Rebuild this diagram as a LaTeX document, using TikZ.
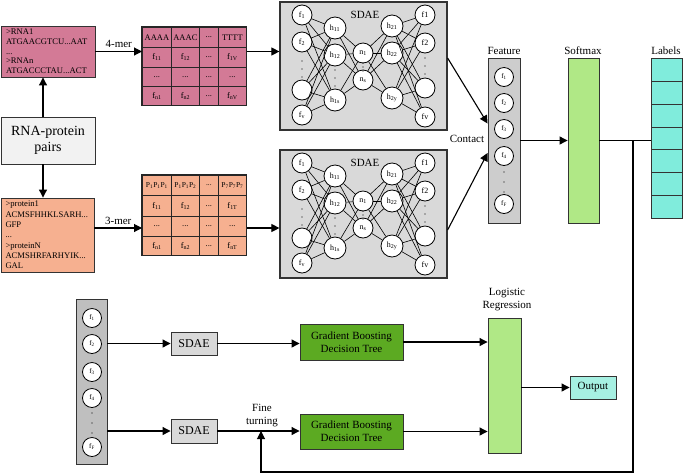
\documentclass[tikz,border=0pt]{standalone}
\usepackage{fontspec}
\setmainfont{Liberation Serif}
\usetikzlibrary{arrows.meta}

\definecolor{rnapink}{RGB}{211,122,150}
\definecolor{protorange}{RGB}{246,176,144}
\definecolor{boxgray}{RGB}{217,217,217}
\definecolor{colgray}{RGB}{205,205,205}
\definecolor{softgreen}{RGB}{176,232,134}
\definecolor{labelcyan}{RGB}{128,236,220}
\definecolor{treegreen}{RGB}{92,170,34}
\definecolor{outcyan}{RGB}{166,240,226}

\newcommand*\cellfont{\fontsize{8.5}{9}\selectfont}
\newcommand*\seqfont{\fontsize{8.6}{9.7}\selectfont}
\newcommand*\labelfont{\fontsize{11}{13}\selectfont}
\newcommand*\titlefont{\fontsize{11}{13}\selectfont}
\newcommand*\celldots{...}
\tikzset{
  block/.style 2 args={
    draw=black!80,
    line width=0.9pt,
    rectangle,
    inner sep=0pt,
    minimum width=#1,
    minimum height=#2,
    align=center,
    font=\labelfont
  },
  cell/.style 2 args={
    draw=black!85,
    line width=0.8pt,
    anchor=north west,
    inner sep=0pt,
    minimum width=#1,
    minimum height=#2,
    font=\cellfont
  },
  neuron/.style={draw, circle, fill=white, line width=0.8pt,
    minimum size=20pt, inner sep=0pt, font=\fontsize{8}{9}\selectfont},
  link/.style={line width=0.6pt},
  flow/.style={line width=1.1pt, -{Triangle[length=8pt,width=8pt]}},
  vdot/.style={fill, circle, inner sep=0pt, minimum size=1.2pt}
}

\begin{document}
\begin{tikzpicture}[x=1pt,y=-1pt]
    \useasboundingbox (0,0) rectangle (685,475);

    % Sequences and the pair box.
    \node[block={94pt}{51pt}, fill=rnapink, font=\seqfont, align=left, text width=84pt] (rna) at (48,51.5)
        {>RNA1\\ATGAACGTCU...AAT\\...\\>RNAn\\ATGACCCTAU...ACT};
    \node[block={94pt}{47pt}, fill=black!5, font=\fontsize{14}{16}\selectfont] (pairs) at (48,140.5) {RNA-protein\\pairs};
    \node[block={93pt}{74pt}, fill=protorange, font=\fontsize{8.6}{10.3}\selectfont, align=left, text width=84pt] (prot) at (47.5,235)
        {>protein1\\ACMSFHHKLSARH...\\GFP\\...\\>proteinN\\ACMSHRFARHYIK...\\GAL};
    \draw[flow] ([xshift=-5pt]pairs.north) -- ([xshift=-5pt]pairs.north |- rna.south);
    \draw[flow] ([xshift=-5pt]pairs.south) -- ([xshift=-5pt]pairs.south |- prot.north);

    % 4-mer table.
    \foreach \cx/\cw/\txt [count=\c] in {142/29/AAAA,171/28/AAAC,199/19/\celldots,218/28/TTTT}
        \node[cell={\cw pt}{20pt}, fill=rnapink] (rt1-\c) at (\cx,27) {\txt};
    \foreach \cx/\cw/\txt [count=\c] in {142/29/f\textsubscript{11},171/28/f\textsubscript{12},199/19/\celldots,218/28/f\textsubscript{1V}}
        \node[cell={\cw pt}{20pt}, fill=rnapink] (rt2-\c) at (\cx,47) {\txt};
    \foreach \cx/\cw/\txt [count=\c] in {142/29/\celldots,171/28/\celldots,199/19/\celldots,218/28/\celldots}
        \node[cell={\cw pt}{19pt}, fill=rnapink] (rt3-\c) at (\cx,67) {\txt};
    \foreach \cx/\cw/\txt [count=\c] in {142/29/f\textsubscript{n1},171/28/f\textsubscript{n2},199/19/\celldots,218/28/f\textsubscript{nV}}
        \node[cell={\cw pt}{19pt}, fill=rnapink] (rt4-\c) at (\cx,86) {\txt};
    \draw[line width=1.2pt, black!85] (rt1-1.north west) rectangle (rt4-4.south east);

    % 3-mer table.
    \foreach \cx/\cw/\txt [count=\c] in {142/29/P\textsubscript{1}P\textsubscript{1}P\textsubscript{1},171/28/P\textsubscript{1}P\textsubscript{1}P\textsubscript{2},199/19/\celldots,218/28/P\textsubscript{7}P\textsubscript{7}P\textsubscript{7}}
        \node[cell={\cw pt}{20pt}, fill=protorange, font=\fontsize{7.5}{8}\selectfont] (pt1-\c) at (\cx,175) {\txt};
    \foreach \cx/\cw/\txt [count=\c] in {142/29/f\textsubscript{11},171/28/f\textsubscript{12},199/19/\celldots,218/28/f\textsubscript{1T}}
        \node[cell={\cw pt}{21pt}, fill=protorange] (pt2-\c) at (\cx,195) {\txt};
    \foreach \cx/\cw/\txt [count=\c] in {142/29/\celldots,171/28/\celldots,199/19/\celldots,218/28/\celldots}
        \node[cell={\cw pt}{20pt}, fill=protorange] (pt3-\c) at (\cx,216) {\txt};
    \foreach \cx/\cw/\txt [count=\c] in {142/29/f\textsubscript{n1},171/28/f\textsubscript{n2},199/19/\celldots,218/28/f\textsubscript{nT}}
        \node[cell={\cw pt}{19pt}, fill=protorange] (pt4-\c) at (\cx,236) {\txt};
    \draw[line width=1.2pt, black!85] (pt1-1.north west) rectangle (pt4-4.south east);

    % The two SDAE networks.
    \foreach \nm/\dy in {a/0,b/148}{
        \node[block={167pt}{128pt}, fill=boxgray, line width=1.2pt] (sdae-\nm) at (363.5,66+\dy) {};
        \node[font=\titlefont] at (365,15+\dy) {SDAE};
        \foreach \y/\txt [count=\i] in {15/f\textsubscript{1},42/f\textsubscript{2},90/{},115/f\textsubscript{v}}
            \node[neuron] (\nm-i\i) at (302,\y+\dy) {\txt};
        \foreach \y/\txt [count=\i] in {28/h\textsubscript{11},55/h\textsubscript{12},100/h\textsubscript{1s}}
            \node[neuron, minimum size=22pt] (\nm-h\i) at (335,\y+\dy) {\txt};
        \foreach \y/\txt [count=\i] in {53/n\textsubscript{1},80/n\textsubscript{s}}
            \node[neuron] (\nm-n\i) at (363,\y+\dy) {\txt};
        \foreach \y/\txt [count=\i] in {26/h\textsubscript{21},53/h\textsubscript{22},98/h\textsubscript{2y}}
            \node[neuron, minimum size=22pt] (\nm-g\i) at (392,\y+\dy) {\txt};
        \foreach \y/\txt [count=\i] in {15/f1,43/f2,88/{},117/fv}
            \node[neuron] (\nm-o\i) at (425,\y+\dy) {\txt};
        % Dots between the units.
        \foreach \y in {61,69,77} \node[vdot] at (302,\y+\dy) {};
        \foreach \y in {70,78,86} \node[vdot] at (335,\y+\dy) {};
        \foreach \y in {63,67,71} \node[vdot] at (363,\y+\dy) {};
        \foreach \y in {58,66,74} \node[vdot] at (425,\y+\dy) {};
        % Full connections.
        \foreach \i in {1,...,4} \foreach \j in {1,2,3} \draw[link] (\nm-i\i) -- (\nm-h\j);
        \foreach \i in {1,2,3} \foreach \j in {1,2} \draw[link] (\nm-h\i) -- (\nm-n\j);
        \foreach \i in {1,2} \foreach \j in {1,2,3} \draw[link] (\nm-n\i) -- (\nm-g\j);
        \foreach \i in {1,2,3} \foreach \j in {1,...,4} \draw[link] (\nm-g\i) -- (\nm-o\j);
    }

    % k-mer arrows.
    \draw[flow] (rna.east) -- node[above, font=\titlefont] {4-mer} (rna.east -| rt1-1.west);
    \draw[flow] (rna.east -| rt2-4.east) -- (rna.east -| sdae-a.west);
    \draw[flow] ([yshift=7pt]prot.east) -- node[above, font=\titlefont] {3-mer} ([yshift=7pt]prot.east -| pt1-1.west);
    \draw[flow] ([yshift=7pt]prot.east -| pt2-4.east) -- ([yshift=7pt]prot.east -| sdae-b.west);

    % Feature, softmax and labels.
    \node[block={32pt}{165pt}, fill=colgray] (feat) at (504,140.5) {};
    \node[font=\titlefont] at (504,51) {Feature};
    \foreach \y/\txt in {77/1,103/2,129/3,156/4,204/F}
        \node[neuron, minimum size=19pt, font=\fontsize{7}{7}\selectfont] (feat-\txt) at (504,\y) {f\textsubscript{\txt}};
    \foreach \y in {172,182,192} \node[vdot] at (504,\y) {};
    \node[block={31pt}{165pt}, fill=softgreen] (soft) at (583.5,140.5) {};
    \node[font=\titlefont] at (583,51) {Softmax};
    \foreach \i in {0,...,6}
        \node[block={31pt}{22.86pt}, fill=labelcyan, anchor=north] (lab\i) at (666.5,58+\i*22.86) {};
    \node[font=\titlefont] at (666,51) {Labels};

    \draw[flow] ([yshift=8pt]sdae-a.east) -- ([yshift=17pt]feat.west);
    \draw[flow] ([yshift=-16pt]sdae-b.east) -- ([yshift=-12.5pt]feat.west);
    \node[font=\labelfont] (contact) at (467,139) {Contact};
    \draw[flow] (feat) -- (soft);
    \draw[line width=1.1pt] (soft.east) -- (soft.east -| lab3.west);

    % Lower part: gradient boosting branch.
    \node[block={31pt}{165pt}, fill=black!25] (col) at (91.5,381.5) {};
    \foreach \y/\txt in {318/1,344/2,372/3,398/4,447/F}
        \node[neuron, minimum size=19pt, font=\fontsize{7}{7}\selectfont] (col-\txt) at (92,\y) {f\textsubscript{\txt}};
    \foreach \y in {413,423,433} \node[vdot] at (92,\y) {};
    \node[block={46pt}{23pt}, fill=boxgray, font=\fontsize{12}{13}\selectfont] (sdae-c) at (194,343.5) {SDAE};
    \node[block={46pt}{24pt}, fill=boxgray, font=\fontsize{12}{13}\selectfont] (sdae-d) at (194,431) {SDAE};
    \node[block={103pt}{36pt}, fill=treegreen] (gbdt-a) at (351.5,342) {Gradient Boosting\\Decision Tree};
    \node[block={103pt}{35pt}, fill=treegreen] (gbdt-b) at (351.5,431.5) {Gradient Boosting\\Decision Tree};
    \node[block={33pt}{135pt}, fill=softgreen] (lr) at (504.5,385.5) {};
    \node[font=\labelfont, align=center] at (507,299.5) {Logistic\\Regression};
    \node[block={46pt}{23pt}, fill=outcyan] (out) at (593,387.5) {Output};
    \node[font=\labelfont, align=center] (tunelbl) at (262,416) {Fine\\turning};

    \draw[flow] (col.east |- sdae-c) -- (sdae-c.west);
    \draw[flow] (sdae-c.east) -- (sdae-c.east -| gbdt-a.west);
    \draw[flow] (gbdt-a.east) -- (gbdt-a.east -| lr.west);
    \draw[flow] (col.east |- sdae-d) -- (sdae-d.west);
    \draw[flow] (sdae-d.east) -- (sdae-d.east -| gbdt-b.west);
    \draw[flow] (gbdt-b.east) -- (gbdt-b.east -| lr.west);
    \draw[flow] (lr.east |- out) -- (out.west);

    % Feedback for fine turning.
    \coordinate (fork) at (633,140.5);
    \coordinate (back) at (633,472);
    \coordinate (tune) at (261,431);
    \draw[flow] (fork) -- (back) -| (tune);

\end{tikzpicture}
\end{document}
